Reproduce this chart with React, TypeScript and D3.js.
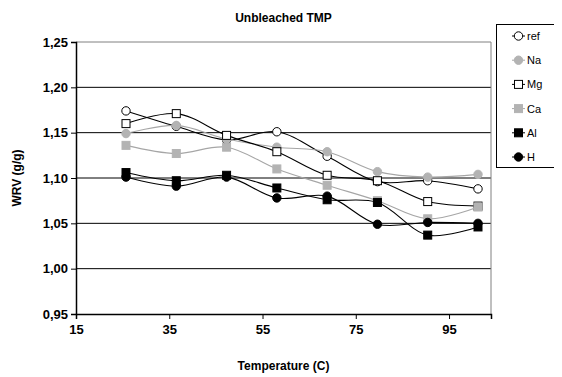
import { useEffect, useRef } from 'react';
import * as d3 from 'd3';

const temps = [25, 35, 45, 55, 65, 75, 85, 95];
const seriesNames = ['ref', 'Na', 'Mg', 'Ca', 'Al', 'H'];
const refVals = [1.174, 1.157, 1.142, 1.151, 1.124, 1.096, 1.097, 1.088];
const naVals = [1.149, 1.158, 1.143, 1.134, 1.129, 1.107, 1.101, 1.104];
const mgVals = [1.160, 1.171, 1.147, 1.129, 1.103, 1.097, 1.074, 1.069];
const caVals = [1.136, 1.127, 1.134, 1.110, 1.092, 1.075, 1.055, 1.068];
const alVals = [1.106, 1.097, 1.103, 1.089, 1.076, 1.073, 1.037, 1.046];
const hVals = [1.101, 1.091, 1.101, 1.078, 1.080, 1.049, 1.051, 1.050];
const xTicks = [15, 35, 55, 75, 95];
const yTicks = [0.95, 1.0, 1.05, 1.1, 1.15, 1.2, 1.25];

type Style = { shape: 'circle' | 'square'; fill: string; stroke: string; line: string };
const styles: Style[] = [
  { shape: 'circle', fill: '#fff', stroke: '#000', line: '#000' },
  { shape: 'circle', fill: '#b3b3b3', stroke: '#b3b3b3', line: '#a6a6a6' },
  { shape: 'square', fill: '#fff', stroke: '#000', line: '#000' },
  { shape: 'square', fill: '#b3b3b3', stroke: '#b3b3b3', line: '#a6a6a6' },
  { shape: 'square', fill: '#000', stroke: '#000', line: '#000' },
  { shape: 'circle', fill: '#000', stroke: '#000', line: '#000' },
];

export default function App() {
  const svgRef = useRef<SVGSVGElement>(null);

  useEffect(() => {
    const svg = d3.select(svgRef.current);
    svg.selectAll('*').remove();

    const W = 562;
    const H = 377;
    const left = 76;
    const right = 491;
    const top = 42;
    const bottom = 314;
    const font = 'Arial, "Liberation Sans", sans-serif';

    svg.attr('width', W).attr('height', H).style('font-family', font);

    const x = d3.scaleLinear().domain([15, 104]).range([left, right]);
    // the points sit on their own category spacing in the original
    const px = d3.scaleLinear().domain([25, 95]).range([126, 478]);
    const y = d3.scaleLinear().domain([0.95, 1.25]).range([bottom, top]);

    // gridlines
    svg.append('g')
      .selectAll('line')
      .data(yTicks.slice(1, -1))
      .enter()
      .append('line')
      .attr('x1', left)
      .attr('x2', right)
      .attr('y1', (d) => y(d))
      .attr('y2', (d) => y(d))
      .attr('stroke', '#000')
      .attr('stroke-width', 1);

    // frame
    svg.append('line').attr('x1', left).attr('x2', right).attr('y1', top).attr('y2', top).attr('stroke', '#808080');
    svg.append('line').attr('x1', right).attr('x2', right).attr('y1', top).attr('y2', bottom).attr('stroke', '#808080');

    const yAxis = svg.append('g')
      .attr('transform', `translate(${left},0)`)
      .call(d3.axisLeft(y).tickValues(yTicks).tickSize(5).tickFormat((d) => d3.format('.2f')(d as number).replace('.', ',')));
    const xAxis = svg.append('g')
      .attr('transform', `translate(0,${bottom})`)
      .call(d3.axisBottom(x).tickValues(xTicks).tickSize(5));
    [yAxis, xAxis].forEach((a) => {
      a.select('.domain').attr('stroke', '#000').attr('stroke-width', 1.5);
      a.selectAll('.tick line').attr('stroke', '#000');
      a.selectAll('text')
        .attr('fill', '#000')
        .style('font-family', font)
        .style('font-size', '13px')
        .style('font-weight', 'bold');
    });
    yAxis.selectAll('text').attr('x', -8);
    xAxis.selectAll('text').attr('y', 11);

    const allVals = [refVals, naVals, mgVals, caVals, alVals, hVals];
    const line = d3.line<number>()
      .x((_, i) => px(temps[i]))
      .y((d) => y(d))
      .curve(d3.curveCatmullRom);

    const drawMarker = (g: d3.Selection<SVGGElement, unknown, null, undefined>, cx: number, cy: number, s: Style) => {
      if (s.shape === 'circle') {
        g.append('circle').attr('cx', cx).attr('cy', cy).attr('r', 4.2)
          .attr('fill', s.fill).attr('stroke', s.stroke).attr('stroke-width', 1);
      } else {
        g.append('rect').attr('x', cx - 4).attr('y', cy - 4).attr('width', 8).attr('height', 8)
          .attr('fill', s.fill).attr('stroke', s.stroke).attr('stroke-width', 1);
      }
    };

    allVals.forEach((vals, k) => {
      const s = styles[k];
      const g = svg.append('g');
      g.append('path').attr('d', line(vals)).attr('fill', 'none').attr('stroke', s.line).attr('stroke-width', 1.1);
      vals.forEach((v, i) => drawMarker(g, px(temps[i]), y(v), s));
    });

    // title and axis labels
    svg.append('text').attr('x', (left + right) / 2).attr('y', 22).attr('text-anchor', 'middle')
      .style('font-size', '12px').style('font-weight', 'bold').text('Unbleached TMP');
    svg.append('text').attr('x', (left + right) / 2).attr('y', 370).attr('text-anchor', 'middle')
      .style('font-size', '12px').style('font-weight', 'bold').text('Temperature (C)');
    svg.append('text').attr('transform', `translate(21,${(top + bottom) / 2}) rotate(-90)`).attr('text-anchor', 'middle')
      .style('font-size', '12px').style('font-weight', 'bold').text('WRV (g/g)');

    // legend
    const lg = svg.append('g');
    lg.append('rect').attr('x', 496.5).attr('y', 24.5).attr('width', 65).attr('height', 143)
      .attr('fill', '#fff').attr('stroke', '#000').attr('stroke-width', 1);
    const ly = d3.scalePoint<string>().domain(seriesNames).range([36, 157]);
    seriesNames.forEach((name, k) => {
      const s = styles[k];
      const cy = ly(name)!;
      const g = lg.append('g');
      g.append('line').attr('x1', 512).attr('x2', 525).attr('y1', cy).attr('y2', cy).attr('stroke', s.line);
      drawMarker(g, 518.5, cy, { ...s });
      g.append('text').attr('x', 527).attr('y', cy + 4).style('font-size', '11px').text(name);
    });
  }, []);

  return (
    <div style={{ margin: -8 }}>
      <svg ref={svgRef}></svg>
    </div>
  );
}
